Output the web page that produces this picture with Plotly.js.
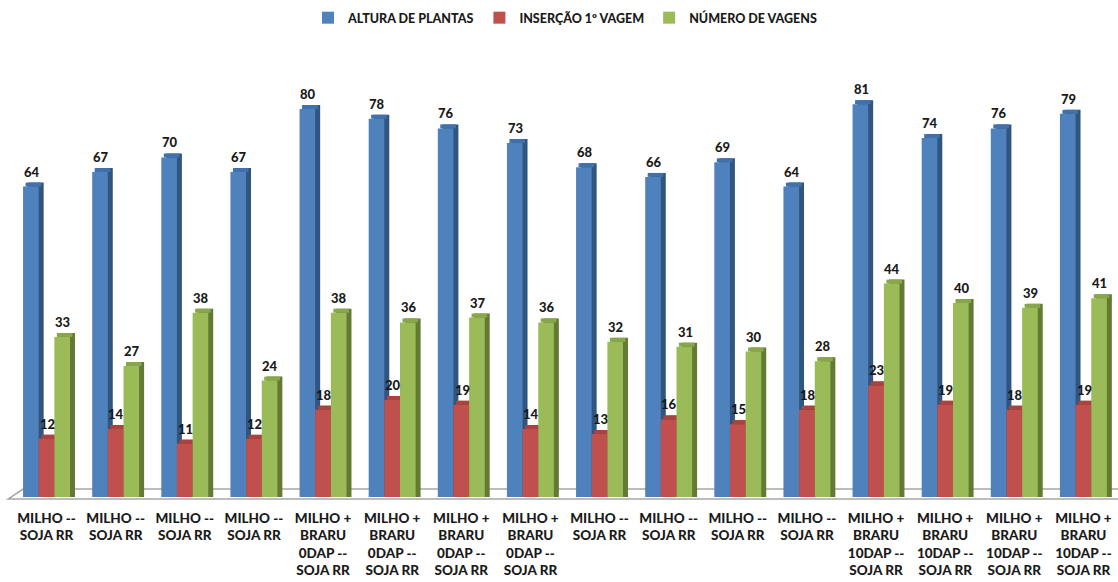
<!DOCTYPE html>
<html>
<head>
<meta charset="utf-8">
<script src="https://cdn.plot.ly/plotly-3.0.1.min.js"></script>
<style>
  html, body { margin: 0; padding: 0; background: #ffffff; }
  #chart { width: 1118px; height: 582px; }
</style>
</head>
<body>
<div id="chart"></div>
<script>
// Treatments (category labels on the floor)
const categories = [
  "MILHO --<br>SOJA RR", "MILHO --<br>SOJA RR", "MILHO --<br>SOJA RR", "MILHO --<br>SOJA RR",
  "MILHO +<br>BRARU<br>0DAP --<br>SOJA RR", "MILHO +<br>BRARU<br>0DAP --<br>SOJA RR",
  "MILHO +<br>BRARU<br>0DAP --<br>SOJA RR", "MILHO +<br>BRARU<br>0DAP --<br>SOJA RR",
  "MILHO --<br>SOJA RR", "MILHO --<br>SOJA RR", "MILHO --<br>SOJA RR", "MILHO --<br>SOJA RR",
  "MILHO +<br>BRARU<br>10DAP --<br>SOJA RR", "MILHO +<br>BRARU<br>10DAP --<br>SOJA RR",
  "MILHO +<br>BRARU<br>10DAP --<br>SOJA RR", "MILHO +<br>BRARU<br>10DAP --<br>SOJA RR"
];

// Series values
const alturaPlantas  = [64, 67, 70, 67, 80, 78, 76, 73, 68, 66, 69, 64, 81, 74, 76, 79];
const insercaoVagem  = [12, 14, 11, 12, 18, 20, 19, 14, 13, 16, 15, 18, 23, 19, 18, 19];
const numeroVagens   = [33, 27, 38, 24, 38, 36, 37, 36, 32, 31, 30, 28, 44, 40, 39, 41];

const seriesNames = ["ALTURA DE PLANTAS", "INSERÇÃO 1º VAGEM", "NÚMERO DE VAGENS"];

const xs = categories.map((_, i) => i);

// Styling for the pseudo-3D columns
const FONT = "Lato, 'Open Sans', 'Liberation Sans', sans-serif";
const barW = 0.226;
const depthX = 0.072;   // side-face depth, category units
const depthY = 0.82;    // top-face rise, value units
const styles = [
  { front: "#4F81BD", cap: "#4171AB", side: "#30557F", off: -0.34 },
  { front: "#C0504D", cap: "#A94340", side: "#7F2F2D", off: -0.113 },
  { front: "#9BBB59", cap: "#88A64A", side: "#627A33", off: 0.113 }
];
const allSeries = [alturaPlantas, insercaoVagem, numeroVagens];

const traces = [];
const annotations = [];
allSeries.forEach((vals, s) => {
  const st = styles[s];
  // side face (behind)
  traces.push({
    type: "bar", x: xs, y: vals.map(v => v + depthY), base: 0,
    width: barW, offset: st.off + depthX,
    marker: { color: st.side, line: { width: 0 } },
    showlegend: false, hoverinfo: "skip"
  });
  // top face
  traces.push({
    type: "bar", x: xs, y: vals.map(() => depthY), base: vals,
    width: barW, offset: st.off + depthX / 2,
    marker: { color: st.cap, line: { width: 0 } },
    showlegend: false, hoverinfo: "skip"
  });
  // front face
  traces.push({
    type: "bar", x: xs, y: vals, name: seriesNames[s],
    width: barW, offset: st.off,
    marker: { color: st.front, line: { width: 0 } },
    showlegend: true
  });
  vals.forEach((v, i) => {
    annotations.push({
      x: i + st.off + barW / 2 + 0.01, y: v, xref: "x", yref: "y",
      text: String(v), showarrow: false, yanchor: "bottom", yshift: 5,
      font: { family: FONT, size: 13, color: "#1a1a1a", weight: 900 }
    });
  });
});

// floor of the 3D plot area
const shapes = [{
  type: "path", xref: "paper", yref: "paper",
  path: "M -0.0036,-0.0046 L 0.0100,0.0183 L 1.02,0.0183 L 1.02,-0.0046 Z",
  line: { color: "#A6A6A6", width: 1.5 }, fillcolor: "rgba(255,255,255,0)", layer: "below"
}];

const layout = {
  width: 1118, height: 582,
  margin: { l: 12, r: 0, t: 60, b: 85 },
  paper_bgcolor: "#ffffff", plot_bgcolor: "#ffffff",
  barmode: "overlay",
  showlegend: true,
  legend: {
    orientation: "h", x: 0.5, xanchor: "center", y: 1.096, yanchor: "middle",
    font: { family: FONT, size: 12.5, color: "#1a1a1a", weight: 900 },
    itemwidth: 30, traceorder: "normal"
  },
  xaxis: {
    range: [-0.5, 15.5], tickvals: xs, ticktext: categories,
    showgrid: false, zeroline: false, showline: false, ticks: "",
    ticklabelstandoff: 11,
    tickfont: { family: FONT, size: 13.5, color: "#1a1a1a", weight: 900 },
    fixedrange: true
  },
  yaxis: {
    range: [0, 90.1], visible: false, showgrid: false, zeroline: false, fixedrange: true
  },
  annotations: annotations,
  shapes: shapes
};

Plotly.newPlot("chart", traces, layout, { displayModeBar: false, staticPlot: true });
</script>
</body>
</html>
